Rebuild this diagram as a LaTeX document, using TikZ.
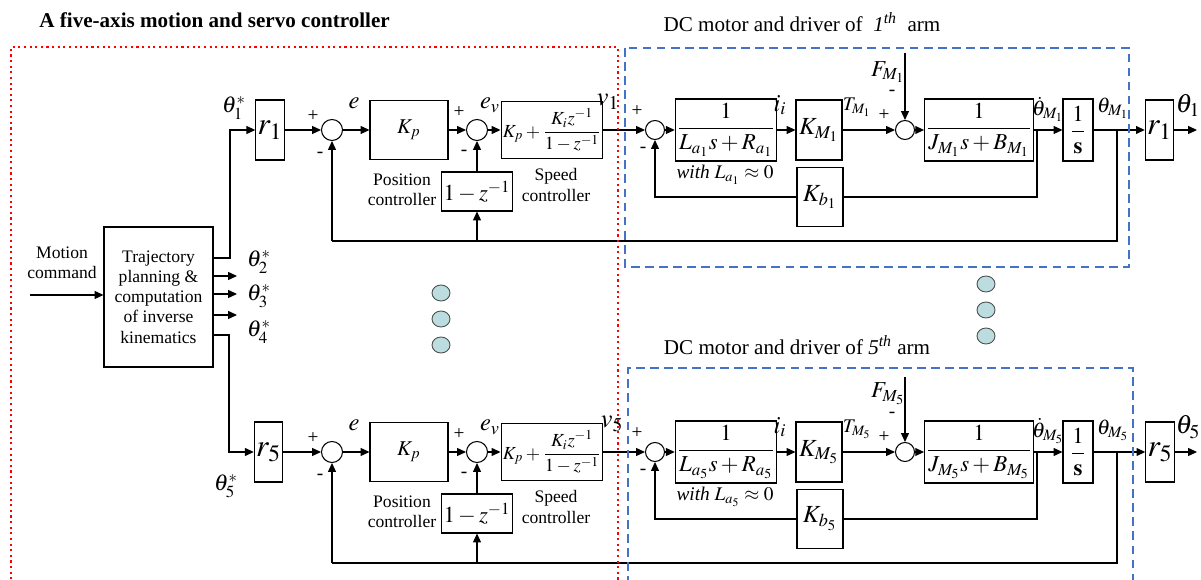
\documentclass[tikz,border=0pt]{standalone}
\usepackage{amsmath}
\usepackage{mathptmx}
\usepackage{fontspec}
\setmainfont{Liberation Serif}
\usetikzlibrary{arrows.meta}

\definecolor{frameblue}{RGB}{68,114,196}
\definecolor{dotfill}{RGB}{187,221,224}

\tikzset{
  blk/.style = {draw, inner sep=1pt},
  sumnode/.style = {draw, circle, inner sep=0pt, minimum size=0.42cm},
  sig/.style = {-{Triangle[length=5pt,width=4.5pt]}},
  txt/.style = {font=\fontsize{10}{11.5}\selectfont, align=center, inner sep=1pt},
  sgn/.style = {font=\fontsize{11}{12}\selectfont, inner sep=0pt},
  lab/.style = {font=\fontsize{14}{15}\selectfont, inner sep=0pt},
  sml/.style = {font=\fontsize{12}{13}\selectfont, inner sep=0pt},
  rbox/.style = {blk, minimum width=0.56cm, minimum height=1.2cm, font=\fontsize{18}{20}\selectfont},
  kbox/.style = {blk, minimum width=0.92cm, minimum height=1.2cm, font=\fontsize{14}{16}\selectfont},
  fbox/.style = {blk, minimum height=1.24cm, font=\fontsize{13}{14}\selectfont},
  dots/.style = {draw=black!70, fill=dotfill, line width=0.5pt}
}

\begin{document}
\begin{tikzpicture}[x=0.02cm, y=-0.02cm, line width=0.6pt]
\useasboundingbox (0,0) rectangle (1201,580);

\node[anchor=west, font=\bfseries\fontsize{12}{14}\selectfont] (title) at (33,20) {A five-axis motion and servo controller};
\node[font=\fontsize{12}{14}\selectfont] (dc1) at (802,22) {DC motor and driver of \ \textit{1}\textsuperscript{\textit{th}}\ \ arm};
\node[font=\fontsize{12}{14}\selectfont] (dc5) at (797,345) {DC motor and driver of \textit{5}\textsuperscript{\textit{th}} arm};

% trajectory planner
\node[blk, txt, minimum width=2.18cm, minimum height=2.8cm] (traj) at (158.5,297) {Trajectory\\planning \&\\computation\\of inverse\\kinematics};
\node[txt] (mcl) at (62,263) {Motion\\command};
\coordinate (mc) at (30,295);
\draw[sig] (mc) -- (traj.west |- mc);

\coordinate (t2) at (237,276);
\coordinate (t3) at (237,294);
\coordinate (t4) at (237,315);
\draw[sig] (traj.east |- t2) -- (t2);
\draw[sig] (traj.east |- t3) -- (t3);
\draw[sig] (traj.east |- t4) -- (t4);
\node[sml, font=\fontsize{13}{14}\selectfont] (th2s) at (259,262) {$\theta_2^*$};
\node[sml, font=\fontsize{13}{14}\selectfont] (th3s) at (259,296) {$\theta_3^*$};
\node[sml, font=\fontsize{13}{14}\selectfont] (th4s) at (259,332) {$\theta_4^*$};

% axis 1
\node[sml, font=\fontsize{13}{14}\selectfont] (th1s) at (234,108) {$\theta_1^*$};
\node[rbox] (r1) at (270,130) {$r_1$};
\node[sumnode] (s11) at (332,130) {};
\node[sgn] (p11) at (313,116) {+};
\node[sgn] (m11) at (320,155) {-};
\node[lab] (e1) at (354,103) {$e$};
\node[blk, minimum width=1.56cm, minimum height=1.18cm, font=\fontsize{12}{14}\selectfont] (kp1) at (409,130) {$K_p$};
\node[txt] (pc1) at (402,190) {Position\\controller};
\node[sumnode] (s12) at (477,130) {};
\node[sgn] (p12) at (459,112) {+};
\node[sgn] (m12) at (464,153) {-};
\node[lab] (ev1) at (490,105) {$e_v$};
\node[blk, minimum width=1.8cm, minimum height=1.14cm, font=\fontsize{10.5}{12}\selectfont] (spd1) at (552,130) {$K_p+\dfrac{K_i z^{-1}}{1-z^{-1}}$};
\node[txt] (sc1) at (556,185) {Speed\\controller};
\node[blk, minimum width=1.38cm, minimum height=0.78cm, font=\fontsize{13}{14}\selectfont] (dz1) at (477,191.5) {$1-z^{-1}$};
\node[lab, font=\fontsize{15}{16}\selectfont] (v1) at (608,102) {$v_1$};
\node[sumnode, minimum size=0.38cm] (s13) at (655,130) {};
\node[sgn] (p13) at (637,111) {+};
\node[sgn] (m13) at (643,150) {-};
\node[fbox, minimum width=1.8cm] (la1) at (726,130) {$\dfrac{1}{L_{a_1}s+R_{a_1}}$};
\node[sml, font=\fontsize{11}{12}\selectfont] (w1) at (725,175) {\textit{with} $L_{a_1}\approx 0$};
\node[lab] (ii1) at (780,105) {$i_i$};
\node[kbox] (km1) at (819,130) {$K_{M_1}$};
\node[sml, font=\fontsize{11}{12}\selectfont] (tm1) at (857,107) {$T_{M_1}$};
\node[sumnode, minimum size=0.38cm] (s14) at (905,130) {};
\node[sgn] (p14) at (884,115) {+};
\node[sgn] (m14) at (892,93) {-};
\node[sml, font=\fontsize{13}{14}\selectfont] (fml1) at (888,72) {$F_{M_1}$};
\coordinate (fm1) at (905,53);
\node[fbox, minimum width=1.88cm] (jb1) at (979,130) {$\dfrac{1}{J_{M_1}s+B_{M_1}}$};
\node[sml] (thd1) at (1048,109) {$\dot{\theta}_{M_1}$};
\node[fbox, minimum width=0.6cm] (int1) at (1078,130) {$\dfrac{1}{\mathbf{s}}$};
\node[sml] (thm1) at (1113,108) {$\theta_{M_1}$};
\node[rbox, minimum width=0.54cm] (ro1) at (1159.5,130) {$r_1$};
\node[lab, font=\fontsize{15}{16}\selectfont] (th1) at (1188,105) {$\theta_1$};
\node[kbox, minimum height=1.18cm] (kb1) at (820,197) {$K_{b_1}$};

\coordinate (c1) at (230,258);
\coordinate (bj1) at (1037,130);
\coordinate (bo1) at (1117,130);
\coordinate (fb1) at (1117,241);
\coordinate (out1) at (1197,130);

\draw[sig] (traj.east |- c1) -- (c1) |- (r1);
\draw[sig] (r1) -- (s11);
\draw[sig] (s11) -- (kp1);
\draw[sig] (kp1) -- (s12);
\draw[sig] (s12) -- (spd1);
\draw[sig] (spd1) -- (s13);
\draw[sig] (s13) -- (la1);
\draw[sig] (la1) -- (km1);
\draw[sig] (km1) -- (s14);
\draw[sig] (fm1) -- (s14);
\draw[sig] (s14) -- (jb1);
\draw[sig] (jb1) -- (int1);
\draw[sig] (int1) -- (ro1);
\draw[sig] (ro1) -- (out1);
\draw (bj1) |- (kb1);
\draw[sig] (kb1) -| (s13);
\draw (bo1) -- (fb1) -- (s11 |- fb1);
\draw[sig] (s11 |- fb1) -- (s11);
\draw[sig] (dz1 |- fb1) -- (dz1);
\draw[sig] (dz1) -- (s12);

% axis 5
\node[sml, font=\fontsize{13}{14}\selectfont] (th5s) at (226,486) {$\theta_5^*$};
\node[rbox] (r5) at (268.5,452) {$r_5$};
\node[sumnode] (s51) at (332,452) {};
\node[sgn] (p51) at (313,438) {+};
\node[sgn] (m51) at (320,477) {-};
\node[lab] (e5) at (354,425) {$e$};
\node[blk, minimum width=1.56cm, minimum height=1.18cm, font=\fontsize{12}{14}\selectfont] (kp5) at (409,452) {$K_p$};
\node[txt] (pc5) at (402,512) {Position\\controller};
\node[sumnode] (s52) at (477,452) {};
\node[sgn] (p52) at (459,434) {+};
\node[sgn] (m52) at (464,475) {-};
\node[lab] (ev5) at (490,427) {$e_v$};
\node[blk, minimum width=1.8cm, minimum height=1.14cm, font=\fontsize{10.5}{12}\selectfont] (spd5) at (552,452) {$K_p+\dfrac{K_i z^{-1}}{1-z^{-1}}$};
\node[txt] (sc5) at (556,507) {Speed\\controller};
\node[blk, minimum width=1.38cm, minimum height=0.78cm, font=\fontsize{13}{14}\selectfont] (dz5) at (477,513.5) {$1-z^{-1}$};
\node[lab, font=\fontsize{15}{16}\selectfont] (v5) at (612,424) {$v_5$};
\node[sumnode, minimum size=0.38cm] (s53) at (655,452) {};
\node[sgn] (p53) at (637,433) {+};
\node[sgn] (m53) at (643,472) {-};
\node[fbox, minimum width=1.8cm] (la5) at (726,452) {$\dfrac{1}{L_{a_5}s+R_{a_5}}$};
\node[sml, font=\fontsize{11}{12}\selectfont] (w5) at (725,497) {\textit{with} $L_{a_5}\approx 0$};
\node[lab] (ii5) at (780,427) {$i_i$};
\node[kbox] (km5) at (819,452) {$K_{M_5}$};
\node[sml, font=\fontsize{11}{12}\selectfont] (tm5) at (857,429) {$T_{M_5}$};
\node[sumnode, minimum size=0.38cm] (s54) at (905,452) {};
\node[sgn] (p54) at (884,437) {+};
\node[sgn] (m54) at (892,415) {-};
\node[sml, font=\fontsize{13}{14}\selectfont] (fml5) at (888,394) {$F_{M_5}$};
\coordinate (fm5) at (905,377);
\node[fbox, minimum width=1.88cm] (jb5) at (979,452) {$\dfrac{1}{J_{M_5}s+B_{M_5}}$};
\node[sml] (thd5) at (1048,431) {$\dot{\theta}_{M_5}$};
\node[fbox, minimum width=0.6cm] (int5) at (1078,452) {$\dfrac{1}{\mathbf{s}}$};
\node[sml] (thm5) at (1113,430) {$\theta_{M_5}$};
\node[rbox, minimum width=0.54cm] (ro5) at (1160,452) {$r_5$};
\node[lab, font=\fontsize{15}{16}\selectfont] (th5) at (1188,427) {$\theta_5$};
\node[kbox, minimum height=1.18cm] (kb5) at (820,519) {$K_{b_5}$};

\coordinate (c5) at (229,335);
\coordinate (bj5) at (1037,452);
\coordinate (bo5) at (1117,452);
\coordinate (fb5) at (1117,563);
\coordinate (out5) at (1197,452);

\draw[sig] (traj.east |- c5) -- (c5) |- (r5);
\draw[sig] (r5) -- (s51);
\draw[sig] (s51) -- (kp5);
\draw[sig] (kp5) -- (s52);
\draw[sig] (s52) -- (spd5);
\draw[sig] (spd5) -- (s53);
\draw[sig] (s53) -- (la5);
\draw[sig] (la5) -- (km5);
\draw[sig] (km5) -- (s54);
\draw[sig] (fm5) -- (s54);
\draw[sig] (s54) -- (jb5);
\draw[sig] (jb5) -- (int5);
\draw[sig] (int5) -- (ro5);
\draw[sig] (ro5) -- (out5);
\draw (bj5) |- (kb5);
\draw[sig] (kb5) -| (s53);
\draw (bo5) -- (fb5) -- (s51 |- fb5);
\draw[sig] (s51 |- fb5) -- (s51);
\draw[sig] (dz5 |- fb5) -- (dz5);
\draw[sig] (dz5) -- (s52);

% dots between the axes
\draw[dots] (441,293) ellipse [x radius=0.18cm, y radius=0.16cm];
\draw[dots] (441,319) ellipse [x radius=0.18cm, y radius=0.16cm];
\draw[dots] (441,345) ellipse [x radius=0.18cm, y radius=0.16cm];
\draw[dots] (986,284) ellipse [x radius=0.18cm, y radius=0.16cm];
\draw[dots] (986,310) ellipse [x radius=0.18cm, y radius=0.16cm];
\draw[dots] (986,336) ellipse [x radius=0.18cm, y radius=0.16cm];

% frames
\draw[red, dotted, line width=1.2pt] (11,585) -- (11,47) -- (618,47) -- (618,585);
\draw[frameblue, dash pattern=on 5pt off 3pt, line width=1.2pt] (625,48) rectangle (1129,267);
\draw[frameblue, dash pattern=on 5pt off 3pt, line width=1.2pt] (628,585) -- (628,368) -- (1133,368) -- (1133,585);
\end{tikzpicture}
\end{document}
